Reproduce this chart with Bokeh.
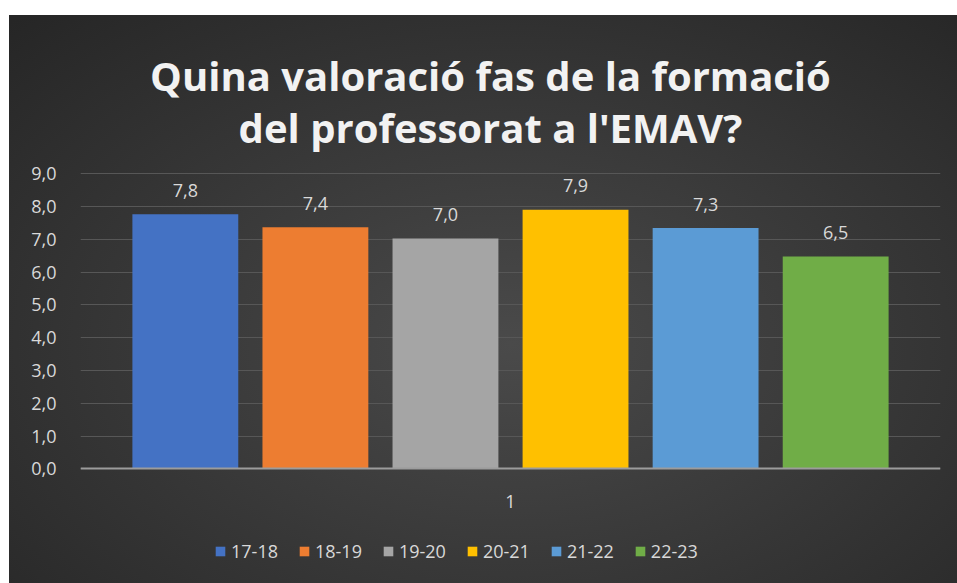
from bokeh.plotting import figure
from bokeh.models import FixedTicker, Label, Legend, LegendItem, ColumnDataSource, Range1d, Spacer
from bokeh.layouts import column, row
from bokeh.core.properties import value
from bokeh.embed import file_html
from bokeh.resources import INLINE

# ---- data ----
title_lines = ["Quina valoració fas de la formació", "del professorat a l'EMAV?"]
seasons = ["17-18", "18-19", "19-20", "20-21", "21-22", "22-23"]
scores = [7.76, 7.36, 7.02, 7.90, 7.34, 6.47]
bar_colors = ["#4472c4", "#ed7d31", "#a5a5a5", "#ffc000", "#5b9bd5", "#70ad47"]
y_ticks = [0, 1, 2, 3, 4, 5, 6, 7, 8, 9]
y_tick_labels = ["0,0", "1,0", "2,0", "3,0", "4,0", "5,0", "6,0", "7,0", "8,0", "9,0"]
x_category = ["1"]

FONT = "Open Sans"
TXT = "#d9d9d9"

xs = list(range(len(seasons)))
labels = [f"{v:.1f}".replace(".", ",") for v in scores]
src = ColumnDataSource(dict(x=xs, top=scores, color=bar_colors, season=seasons, label=labels))

# frame covers the whole chart height: the value axis is 0..9, the rest is room
# for the title (above) and the category label and legend (below)
p = figure(width=948, height=568, output_backend="svg", toolbar_location=None,
           x_range=Range1d(-0.806, len(seasons) - 1 + 0.806), y_range=Range1d(-3.488, 13.813),
           min_border_left=71, min_border_right=17, min_border_top=0, min_border_bottom=0,
           title=None)
p.background_fill_color = None
p.border_fill_color = None
p.outline_line_color = None
p.styles = {"background": "radial-gradient(ellipse 75% 80% at 53% 58%, #4a4a4a 0%, #3a3a3a 45%, #262626 100%)"}

r = p.vbar(x="x", top="top", width=0.814, bottom=0, color="color", line_color=None, source=src)
p.text(x="x", y="top", text="label", source=src, text_align="center", text_baseline="middle",
       y_offset=-24, text_font=value(FONT), text_font_size="18px", text_color=TXT)

# axes
p.yaxis.ticker = FixedTicker(ticks=y_ticks)
p.yaxis.major_label_overrides = {t: l for t, l in zip(y_ticks, y_tick_labels)}
p.yaxis.axis_line_color = None
p.yaxis.major_tick_line_color = None
p.yaxis.minor_tick_line_color = None
p.yaxis.major_label_text_font = FONT
p.yaxis.major_label_text_font_size = "18px"
p.yaxis.major_label_text_color = TXT
p.yaxis.major_label_standoff = 18

mid = (len(seasons) - 1) / 2
p.xaxis.fixed_location = 0
p.xaxis.ticker = FixedTicker(ticks=[mid])
p.xaxis.major_label_overrides = {mid: x_category[0]}
p.xaxis.axis_line_color = "#9c9c9c"
p.xaxis.axis_line_width = 2
p.xaxis.major_tick_line_color = None
p.xaxis.minor_tick_line_color = None
p.xaxis.major_label_text_font = FONT
p.xaxis.major_label_text_font_size = "18px"
p.xaxis.major_label_text_color = TXT
p.xaxis.major_label_standoff = 20

p.xgrid.grid_line_color = None
p.ygrid.grid_line_color = "#575757"
p.ygrid.grid_line_width = 1
p.ygrid.ticker = FixedTicker(ticks=y_ticks)

# title, two centred lines above the value axis
title_x = mid - 0.154
title_baselines = [11.985, 10.40]
for line, yb in zip(title_lines, title_baselines):
    p.add_layout(Label(x=title_x, y=yb, text=line, text_align="center", text_baseline="alphabetic",
                       text_font=FONT, text_font_size="40px", text_font_style="bold",
                       text_color="#f2f2f2"))

legend = Legend(items=[LegendItem(label=s, renderers=[r], index=i) for i, s in enumerate(seasons)],
                orientation="horizontal", location=(134, 20), glyph_width=12, glyph_height=12,
                label_standoff=5, spacing=20, padding=0, margin=0, border_line_color=None,
                background_fill_alpha=0, label_text_font=FONT, label_text_font_size="18px",
                label_text_color=TXT)
p.add_layout(legend)

layout = column(Spacer(height=15), row(Spacer(width=9), p))
open("out.html", "w").write(file_html(layout, INLINE))
